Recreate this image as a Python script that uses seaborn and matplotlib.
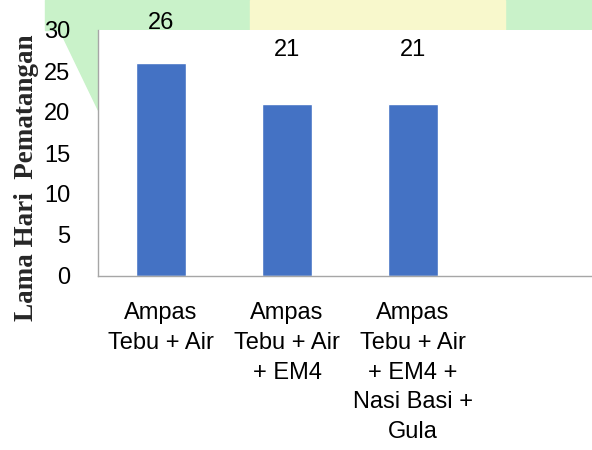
import numpy as np
import pandas as pd
import matplotlib
matplotlib.use("Agg")
import matplotlib.pyplot as plt
import matplotlib.patches as mpatches
import seaborn as sns

# ============================
# DATA
# ============================
perlakuan = ["Ampas\nTebu + Air",
             "Ampas\nTebu + Air\n+ EM4",
             "Ampas\nTebu + Air\n+ EM4 +\nNasi Basi +\nGula"]
lama_hari = [26, 21, 21]
label_y = [30.85, 27.55, 27.55]   # where the value labels sit

df = pd.DataFrame({"perlakuan": perlakuan, "hari": lama_hari})

# ============================
# PLOT
# ============================
sns.set_style("white")
plt.rcParams["font.family"] = ["Liberation Sans", "DejaVu Sans"]
plt.rcParams["text.color"] = "black"
plt.rcParams["xtick.color"] = "black"
plt.rcParams["ytick.color"] = "black"

W, H = 592, 450
fig = plt.figure(figsize=(W / 100, H / 100), dpi=100)
fig.patch.set_facecolor("white")

# faint watermark strip behind the top of the chart
fig.patches.append(mpatches.Rectangle((45 / W, 1 - 30 / H), 1, 30 / H,
                                      transform=fig.transFigure, color="#c9f2c9", zorder=-2))
fig.patches.append(mpatches.Rectangle((250 / W, 1 - 30 / H), 255 / W, 30 / H,
                                      transform=fig.transFigure, color="#f8f8cc", zorder=-2))
fig.patches.append(mpatches.Polygon([(45 / W, 1), (98 / W, 1), (98 / W, 1 - 110 / H)],
                                    closed=True, transform=fig.transFigure,
                                    color="#c9f2c9", zorder=-2))

ax = fig.add_axes([98 / W, 1 - 276 / H, 1 - 98 / W, 246 / H])
ax.set_zorder(1)
sns.barplot(data=df, x="perlakuan", y="hari", color="#4472C4",
            width=0.4, saturation=1, ax=ax)

for i, (v, ly) in enumerate(zip(lama_hari, label_y)):
    ax.text(i, ly, str(v), ha="center", va="center", fontsize=17, color="black",
            clip_on=False)

ax.set_ylim(0, 30)
ax.set_xlim(-0.5, 3.42)
ax.set_yticks(np.arange(0, 31, 5))
ax.set_xticks(range(len(perlakuan)))
ax.set_xticklabels(perlakuan, fontsize=17, linespacing=1.45)
ax.set_xticks(np.arange(-0.5, 3.0, 1.0), minor=True)
ax.tick_params(axis="x", which="major", length=0, pad=19)
ax.tick_params(axis="x", which="minor", length=8, width=1, color="#a6a6a6", direction="out")
ax.tick_params(axis="y", length=8, width=1, color="#a6a6a6", labelcolor="black",
               direction="out", pad=12, labelsize=17)
ax.set_xlabel("")

sns.despine(ax=ax)
for s in ["left", "bottom"]:
    ax.spines[s].set_color("#a6a6a6")
    ax.spines[s].set_linewidth(1)

ax.set_ylabel("Lama Hari  Pematangan", fontsize=19.5, fontweight="bold",
              family=["Liberation Serif", "DejaVu Serif"])
ax.yaxis.set_label_coords(-0.12, 0.40)

fig.savefig("out.png", dpi=100)
